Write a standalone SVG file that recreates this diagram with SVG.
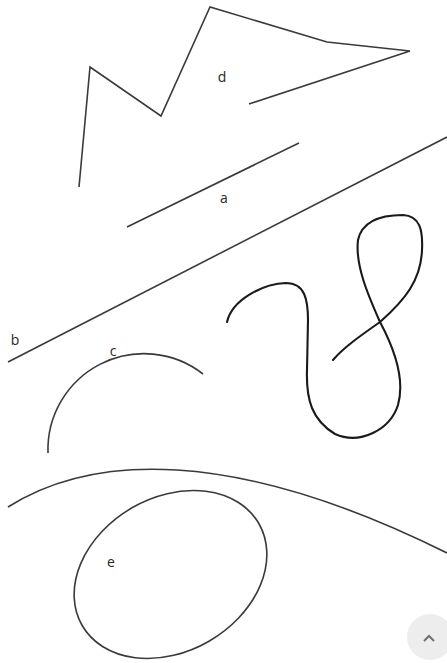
<svg xmlns="http://www.w3.org/2000/svg" width="447" height="663" viewBox="0 0 447 663">
<style>
.s{fill:none;stroke:#3a3a3a;stroke-width:1.6;stroke-linejoin:miter;stroke-linecap:butt}
.k{fill:none;stroke:#1a1a1a;stroke-width:2.1;stroke-linecap:round;stroke-linejoin:round}
.t{font-family:"Open Sans","DejaVu Sans",sans-serif;font-size:14px;fill:#262626;text-anchor:middle}
</style>
<rect width="447" height="663" fill="#fff"/>
<g id="shape-d">
<polyline class="s" points="79,187 90,67 161,116 210,7 327,42 410,51 249,104"/>
<text class="t" x="222" y="82">d</text>
</g>
<g id="shape-a">
<line class="s" x1="127" y1="227" x2="299" y2="143"/>
<text class="t" x="224" y="203">a</text>
</g>
<g id="shape-b">
<line class="s" x1="8" y1="362" x2="447" y2="137"/>
<text class="t" x="15" y="345">b</text>
</g>
<g id="shape-c">
<path class="s" d="M48,453 A96,96 0 0 1 203,374"/>
<text class="t" x="113" y="356">c</text>
</g>
<g id="squiggle">
<path class="k" d="M227,322 C232,300 262,284 286,283 C305,283 308,300 308,320 L307,370 C306,400 312,420 335,434 C360,445 390,430 398,405 C405,380 395,350 380,322 C368,295 355,265 358,240 C362,222 380,215 403,215 C420,216 423,230 422,250 C421,280 405,300 380,322 C360,336 343,348 333,360"/>
</g>
<g id="curve">
<path class="s" d="M8,507 C90,455 230,445 447,553"/>
</g>
<g id="shape-e">
<ellipse class="s" cx="170.5" cy="574.5" rx="102" ry="77" transform="rotate(-30 170.5 574.5)"/>
<text class="t" x="111" y="567">e</text>
</g>
<g id="scroll-top">
<circle cx="430" cy="637" r="23" fill="#ededed"/>
<polyline points="424,641 429,636 434,641" fill="none" stroke="#707070" stroke-width="2"/>
</g>
</svg>
